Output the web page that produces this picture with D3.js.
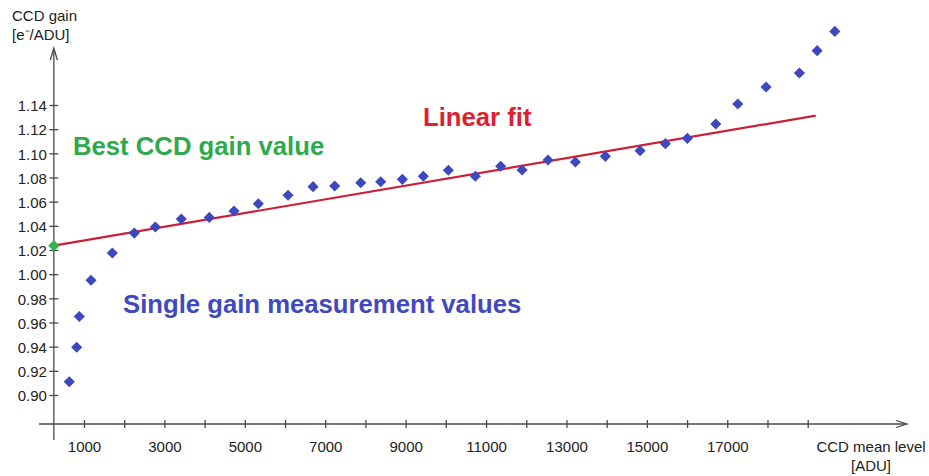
<!DOCTYPE html>
<html>
<head>
<meta charset="utf-8">
<script src="https://cdn.jsdelivr.net/npm/d3@7"></script>
<style>
  html, body { margin: 0; padding: 0; background: #fff; }
  svg { display: block; }
  text { font-family: "Liberation Sans", Arial, sans-serif; }
</style>
</head>
<body>
<svg id="chart" width="929" height="476"></svg>
<script>
// ---- data ----
const meanLevel = [634, 818, 883, 1174, 1704, 2251, 2774, 3420, 4117, 4731, 5336, 6075, 6697, 7236,
  7883, 8380, 8918, 9440, 10062, 10734, 11365, 11896, 12542, 13222, 13968, 14831, 15460, 16007,
  16714, 17261, 17965, 18794, 19234, 19674];
const gain = [0.911, 0.9395, 0.965, 0.995, 1.0175, 1.034, 1.039, 1.0457, 1.047, 1.0523, 1.0583,
  1.0653, 1.0724, 1.073, 1.0757, 1.0765, 1.0785, 1.081, 1.086, 1.081, 1.0893, 1.0862, 1.0945,
  1.0928, 1.0975, 1.1022, 1.108, 1.1124, 1.1243, 1.1408, 1.1549, 1.1665, 1.185, 1.2009];
const fitX = [250, 19200];
const fitY = [1.0236, 1.1312];
const bestGain = [250, 1.0236];
const xTicks = [1000, 2000, 3000, 4000, 5000, 6000, 7000, 8000, 9000, 10000, 11000, 12000,
  13000, 14000, 15000, 16000, 17000, 18000, 19000];
const xTickLabels = ["1000", "", "3000", "", "5000", "", "7000", "", "9000", "", "11000", "",
  "13000", "", "15000", "", "17000", "", ""];
const yTicks = [0.90, 0.92, 0.94, 0.96, 0.98, 1.00, 1.02, 1.04, 1.06, 1.08, 1.10, 1.12, 1.14];
const yTickLabels = ["0.90", "0.92", "0.94", "0.96", "0.98", "1.00", "1.02", "1.04", "1.06",
  "1.08", "1.10", "1.12", "1.14"];

// ---- scales ----
const x = d3.scaleLinear().domain([1000, 19000]).range([84, 807.7]);
const y = d3.scaleLinear().domain([0.90, 1.14]).range([395, 105]);

const svg = d3.select("#chart");
const axisColor = "#4a4a4a";
const x0 = x(bestGain[0]);   // where y-axis sits
const yAxisPos = 424;        // where x-axis sits

// ---- x axis ----
const xAxis = d3.axisBottom(x)
  .tickValues(xTicks)
  .tickFormat((d, i) => xTickLabels[i])
  .tickSize(4).tickPadding(10);
const gx = svg.append("g").attr("transform", `translate(0,${yAxisPos})`).call(xAxis);
gx.select(".domain").remove();
gx.selectAll(".tick line").attr("y1", -4).attr("y2", 4).attr("stroke", axisColor).attr("stroke-width", 1.3);
gx.selectAll(".tick text").attr("font-size", 15).attr("fill", "#222")
  .attr("font-family", "Liberation Sans, Arial, sans-serif").attr("dy", "0.95em");
svg.append("line").attr("x1", 39).attr("x2", 905).attr("y1", yAxisPos).attr("y2", yAxisPos)
  .attr("stroke", axisColor).attr("stroke-width", 1.3);
svg.append("path").attr("d", `M896,${yAxisPos - 3.5} L907,${yAxisPos} L896,${yAxisPos + 3.5}`)
  .attr("fill", "none").attr("stroke", axisColor).attr("stroke-width", 1.3);

// ---- y axis ----
const yAxis = d3.axisLeft(y)
  .tickValues(yTicks)
  .tickFormat((d, i) => yTickLabels[i])
  .tickSize(4).tickPadding(4);
const gy = svg.append("g").attr("transform", `translate(${x0},0)`).call(yAxis);
gy.select(".domain").remove();
gy.selectAll(".tick line").attr("x1", -4.5).attr("x2", 4.5).attr("stroke", axisColor).attr("stroke-width", 1.3);
gy.selectAll(".tick text").attr("font-size", 15).attr("fill", "#222")
  .attr("font-family", "Liberation Sans, Arial, sans-serif").attr("x", -7).attr("dy", "0.38em");
svg.append("line").attr("x1", x0).attr("x2", x0).attr("y1", 50).attr("y2", 440)
  .attr("stroke", axisColor).attr("stroke-width", 1.3);
svg.append("path").attr("d", `M${x0 - 3.5},60 L${x0},48 L${x0 + 3.5},60`)
  .attr("fill", "none").attr("stroke", axisColor).attr("stroke-width", 1.3);

// ---- axis titles ----
const yt = svg.append("text").attr("x", 12).attr("y", 21).attr("font-size", 15).attr("fill", "#222");
yt.append("tspan").attr("x", 12).attr("y", 21).text("CCD gain");
yt.append("tspan").attr("x", 12).attr("y", 40).text("[e\u207B/ADU]");
const xt = svg.append("text").attr("text-anchor", "middle").attr("font-size", 15).attr("fill", "#222");
xt.append("tspan").attr("x", 871).attr("y", 452).text("CCD mean level");
xt.append("tspan").attr("x", 871).attr("y", 471).text("[ADU]");

// ---- linear fit ----
const line = d3.line().x(d => x(d[0])).y(d => y(d[1]));
svg.append("path").datum(fitX.map((v, i) => [v, fitY[i]]))
  .attr("d", line).attr("fill", "none").attr("stroke", "#cc1f36").attr("stroke-width", 2.2);

// ---- measurement points ----
const diamond = d3.symbol().type(d3.symbolSquare).size(62);
svg.append("g").selectAll("path").data(meanLevel.map((v, i) => [v, gain[i]]))
  .join("path")
  .attr("d", diamond)
  .attr("transform", d => `translate(${x(d[0])},${y(d[1])}) rotate(45)`)
  .attr("fill", "#3d48bf");

// ---- best gain point ----
svg.append("path").attr("d", d3.symbol().type(d3.symbolSquare).size(64))
  .attr("transform", `translate(${x(bestGain[0])},${y(bestGain[1])}) rotate(45)`)
  .attr("fill", "#2fb24a");

// ---- annotations ----
svg.append("text").attr("x", 73).attr("y", 155).attr("font-size", 25.7).attr("font-weight", "bold")
  .attr("fill", "#2eaa4c").text("Best CCD gain value");
svg.append("text").attr("x", 423).attr("y", 125.5).attr("font-size", 25.7).attr("font-weight", "bold")
  .attr("fill", "#de1f2c").text("Linear fit");
svg.append("text").attr("x", 123).attr("y", 313).attr("font-size", 25.7).attr("font-weight", "bold")
  .attr("fill", "#4049c0").text("Single gain measurement values");
</script>
</body>
</html>
